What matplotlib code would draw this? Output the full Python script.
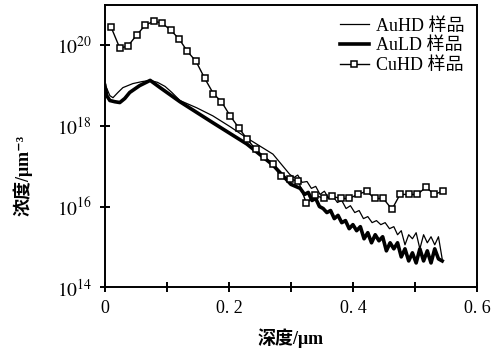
import numpy as np
import matplotlib
matplotlib.use("Agg")
import matplotlib.pyplot as plt

plt.rcParams['font.family'] = ['Liberation Serif', 'Noto Sans CJK SC', 'DejaVu Sans']
plt.rcParams['mathtext.fontset'] = 'stix'

# depth (um) and log10 of concentration (um^-3)
auhd_x = [0.000, 0.003, 0.008, 0.013, 0.021, 0.029, 0.045, 0.060, 0.073, 0.085,
          0.097, 0.108, 0.121, 0.148, 0.174, 0.202, 0.229, 0.250, 0.271, 0.298,
          0.305, 0.311, 0.318, 0.326, 0.333, 0.340, 0.347, 0.354, 0.361, 0.368,
          0.375, 0.382, 0.389, 0.396, 0.403, 0.410, 0.417, 0.424, 0.431, 0.438,
          0.445, 0.452, 0.459, 0.466, 0.472, 0.478, 0.484, 0.490, 0.496, 0.502,
          0.508, 0.514, 0.520, 0.526, 0.532, 0.538, 0.544]
auhd_log = [18.93, 18.93, 18.75, 18.70, 18.83, 18.95, 19.05, 19.10, 19.13, 19.08,
            18.98, 18.83, 18.63, 18.45, 18.25, 17.98, 17.70, 17.50, 17.30, 16.80,
            16.72, 16.78, 16.60, 16.62, 16.45, 16.50, 16.30, 16.38, 16.20, 16.25,
            16.10, 16.15, 15.95, 16.02, 15.85, 15.90, 15.70, 15.75, 15.60, 15.65,
            15.55, 15.60, 15.45, 15.50, 15.30, 15.40, 15.05, 15.30, 15.20, 15.35,
            14.95, 15.30, 15.10, 15.25, 15.05, 15.25, 14.70]

auld_x = [0.000, 0.003, 0.008, 0.016, 0.024, 0.032, 0.040, 0.056, 0.073, 0.089,
          0.121, 0.174, 0.229, 0.271, 0.300, 0.315, 0.322, 0.328, 0.334, 0.340,
          0.346, 0.352, 0.358, 0.364, 0.370, 0.376, 0.382, 0.388, 0.394, 0.400,
          0.406, 0.412, 0.418, 0.424, 0.430, 0.436, 0.442, 0.448, 0.454, 0.460,
          0.466, 0.472, 0.478, 0.484, 0.490, 0.496, 0.502, 0.508, 0.514, 0.520,
          0.526, 0.532, 0.538, 0.544]
auld_log = [19.00, 18.75, 18.63, 18.60, 18.58, 18.68, 18.83, 19.00, 19.13, 18.95,
            18.60, 18.08, 17.55, 17.03, 16.55, 16.45, 16.30, 16.35, 16.15, 16.20,
            16.00, 15.95, 15.85, 15.90, 15.70, 15.78, 15.60, 15.65, 15.45, 15.55,
            15.40, 15.50, 15.20, 15.35, 15.10, 15.30, 15.15, 15.25, 14.90, 15.10,
            14.95, 15.10, 14.75, 14.95, 14.65, 14.85, 14.60, 14.95, 14.65, 14.90,
            14.60, 14.95, 14.70, 14.65]

cuhd_x = [0.010, 0.024, 0.037, 0.051, 0.065, 0.079, 0.092, 0.106, 0.120, 0.133,
          0.147, 0.161, 0.175, 0.188, 0.202, 0.216, 0.229, 0.243, 0.257, 0.271,
          0.284, 0.298, 0.312, 0.325, 0.339, 0.353, 0.367, 0.380, 0.394, 0.408,
          0.422, 0.435, 0.449, 0.463, 0.476, 0.490, 0.504, 0.518, 0.531, 0.545]
cuhd_log = [20.45, 19.93, 19.98, 20.25, 20.50, 20.60, 20.55, 20.38, 20.15, 19.85,
            19.60, 19.18, 18.80, 18.60, 18.25, 17.95, 17.68, 17.42, 17.22, 17.05,
            16.75, 16.68, 16.63, 16.08, 16.28, 16.20, 16.25, 16.20, 16.20, 16.30,
            16.38, 16.20, 16.20, 15.93, 16.30, 16.30, 16.30, 16.48, 16.30, 16.38]

xticks = [0, 0.1, 0.2, 0.3, 0.4, 0.5, 0.6]
xticklabels = ['0', '', '0. 2', '', '0. 4', '', '0. 6']
yticks = [1e14, 1e16, 1e18, 1e20]
yticklabels = [r'$10^{14}$', r'$10^{16}$', r'$10^{18}$', r'$10^{20}$']

fig = plt.figure(figsize=(5.02, 3.58), dpi=100)
ax = fig.add_axes([0.209, 0.198, 0.741, 0.788])

ax.plot(auhd_x, 10 ** np.array(auhd_log), color='black', lw=0.9, label='AuHD 样品')
ax.plot(auld_x, 10 ** np.array(auld_log), color='black', lw=2.6, label='AuLD 样品')
ax.plot(cuhd_x, 10 ** np.array(cuhd_log), color='black', lw=1.0, marker='s',
        ms=5, mfc='white', mec='black', mew=1.1, label='CuHD 样品')

ax.set_yscale('log')
ax.set_xlim(0, 0.6)
ax.set_ylim(1e14, 1e21)
ax.set_xticks(xticks)
ax.set_xticklabels(xticklabels, fontsize=13)
ax.set_yticks(yticks)
ax.set_yticklabels(yticklabels, fontsize=14)
ax.minorticks_off()
ax.tick_params(direction='inout', length=7, width=1.4, pad=6)
for s in ax.spines.values():
    s.set_linewidth(1.4)

ax.set_xlabel('深度/μm', fontsize=13, fontweight='bold', labelpad=8)
fig.text(0.045, 1 - 175 / 358, '浓度/μm⁻³', rotation=90, fontsize=13,
         fontweight='bold', ha='center', va='center')

leg = ax.legend(loc='upper right', bbox_to_anchor=(1.0, 1.0), frameon=False,
                fontsize=13, handlelength=1.6, handletextpad=0.4, labelspacing=0.15,
                borderaxespad=0.3)

fig.savefig('out.png', dpi=100)
